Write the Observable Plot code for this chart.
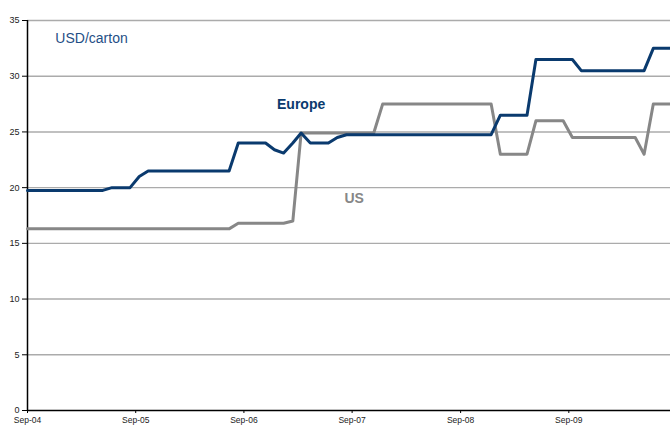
<!DOCTYPE html>
<html>
<head>
<meta charset="utf-8">
<script src="https://cdn.jsdelivr.net/npm/d3@7"></script>
<script src="https://cdn.jsdelivr.net/npm/@observablehq/plot@0.6"></script>
<style>
  html, body { margin: 0; padding: 0; background: #fff; }
  #chart svg { display: block; }
</style>
</head>
<body>
<div id="chart"></div>
<script>
// Monthly prices, USD/carton, Sep-2004 .. Aug-2010
const europe = [
  19.75, 19.75, 19.75, 19.75, 19.75, 19.75, 19.75, 19.75, 19.75,
  20, 20, 20,
  21,
  21.5, 21.5, 21.5, 21.5, 21.5, 21.5, 21.5, 21.5, 21.5, 21.5,
  24, 24, 24, 24,
  23.4, 23.1, 24.0, 24.9,
  24, 24, 24,
  24.5,
  24.75, 24.75, 24.75, 24.75, 24.75, 24.75, 24.75, 24.75, 24.75, 24.75, 24.75, 24.75, 24.75, 24.75, 24.75, 24.75, 24.75,
  26.5, 26.5, 26.5, 26.5,
  31.5, 31.5, 31.5, 31.5, 31.5,
  30.5, 30.5, 30.5, 30.5, 30.5, 30.5, 30.5, 30.5,
  32.5, 32.5, 32.5
];
const us = [
  16.3, 16.3, 16.3, 16.3, 16.3, 16.3, 16.3, 16.3, 16.3, 16.3, 16.3, 16.3,
  16.3, 16.3, 16.3, 16.3, 16.3, 16.3, 16.3, 16.3, 16.3, 16.3, 16.3,
  16.8, 16.8, 16.8, 16.8, 16.8, 16.8,
  17.0,
  24.9, 24.9, 24.9, 24.9, 24.9, 24.9, 24.9, 24.9, 24.9,
  27.5, 27.5, 27.5, 27.5, 27.5, 27.5, 27.5, 27.5, 27.5, 27.5, 27.5, 27.5, 27.5,
  23, 23, 23, 23,
  26, 26, 26, 26,
  24.5, 24.5, 24.5, 24.5, 24.5, 24.5, 24.5, 24.5,
  23,
  27.5, 27.5, 27.5
];
const tickDates = ["2004-09-01", "2005-09-01", "2006-09-01", "2007-09-01", "2008-09-01", "2009-09-01"];
const tickLabels = ["Sep-04", "Sep-05", "Sep-06", "Sep-07", "Sep-08", "Sep-09"];
const yTicks = [0, 5, 10, 15, 20, 25, 30, 35];
const unitLabel = [{text: "USD/carton", date: "2004-12-04", value: 33.4}];
const seriesLabels = [
  {text: "Europe", date: "2007-03-13", value: 27.45, series: "Europe"},
  {text: "US", date: "2007-09-08", value: 19.05, series: "US"}
];

const start = new Date("2004-09-01");
const dateAt = i => i === 0 ? start : d3.utcDay.offset(d3.utcMonth.offset(start, i), 12);
const rows = [];
europe.forEach((v, i) => rows.push({date: dateAt(i), value: v, series: "Europe"}));
us.forEach((v, i) => rows.push({date: dateAt(i), value: v, series: "US"}));

const colors = {Europe: "#0a3a6e", US: "#878787", unit: "#1f4f86"};
const fmt = d => tickLabels[tickDates.findIndex(t => +new Date(t) === +d)];

const chart = Plot.plot({
  width: 670,
  height: 427,
  marginLeft: 27,
  marginRight: 0,
  marginTop: 20,
  marginBottom: 17,
  style: {fontFamily: "Liberation Sans, Arial, sans-serif", background: "#fff"},
  x: {type: "utc", domain: [new Date("2004-09-01"), new Date("2010-08-10")]},
  y: {domain: [0, 35]},
  marks: [
    Plot.ruleY(yTicks.filter(d => d > 0), {stroke: "#ababab", strokeWidth: 1.4}),
    Plot.axisY({ticks: yTicks, tickSize: 5, tickPadding: 3, fontSize: 9, stroke: "#000", fill: "#222", label: null}),
    Plot.axisX({ticks: tickDates.map(d => new Date(d)), tickFormat: fmt, tickSize: 3, tickPadding: 3, fontSize: 8.5, stroke: "#000", fill: "#222", label: null}),
    Plot.ruleY([0], {stroke: "#000", strokeWidth: 1.5}),
    Plot.ruleX([new Date("2004-09-01")], {stroke: "#000", strokeWidth: 1.5}),
    Plot.line(rows.filter(d => d.series === "US"), {x: "date", y: "value", stroke: colors.US, strokeWidth: 3, strokeLinejoin: "round"}),
    Plot.line(rows.filter(d => d.series === "Europe"), {x: "date", y: "value", stroke: colors.Europe, strokeWidth: 3, strokeLinejoin: "round"}),
    Plot.text(unitLabel, {
      x: d => new Date(d.date), y: "value", text: "text",
      fill: colors.unit, fontWeight: "normal", textAnchor: "start", fontSize: 14
    }),
    Plot.text(seriesLabels, {
      x: d => new Date(d.date), y: "value", text: "text",
      fill: d => colors[d.series], fontWeight: "bold", textAnchor: "middle", fontSize: 14
    })
  ]
});
document.getElementById("chart").appendChild(chart);
</script>
</body>
</html>
